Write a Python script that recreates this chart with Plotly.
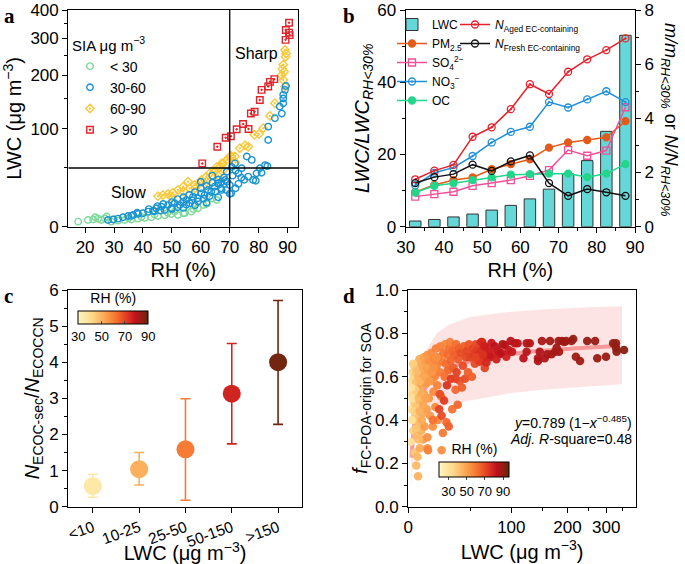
import math
import plotly.graph_objects as go
from plotly.colors import sample_colorscale

W, H = 685, 564
FONT = "Liberation Sans, Arial, sans-serif"
OFF = 80.0  # offset of the offset-log LWC scale (axis shows LWC, plots LWC+OFF on a log axis)

# ---------------- panel a : LWC vs RH by SIA class ----------------
a_lt30_rh = [17.6, 21, 22.8, 24.5, 25.6, 26.8, 29.1, 31.4, 33.7, 36, 38.3, 40.6, 42.9, 45.2, 47.5,
             49.8, 52.1, 54.4, 56.7, 59, 60.9, 65.5, 54, 23.5, 27.5, 30, 35, 39.5, 44, 48.5, 51,
             57.5, 62, 64]
a_lt30_lwc = [3.4, 4.6, 4.9, 5.5, 4.6, 5.8, 3.4, 4.1, 4.6, 4.9, 5.5, 6.0, 6.5, 7.4, 7.9,
              8.9, 8.1, 9.4, 10.6, 13.2, 15.7, 19.8, 9.4, 6.5, 7.0, 5.0, 5.8, 6.8, 8.5, 9.8, 10.8,
              12.5, 16.5, 21]
a_30_60_rh = [27.9, 29.7, 31.4, 33.1, 34.9, 36.6, 38.3, 40, 41.8, 43.5, 44.6, 46.4, 47.5, 48.7, 49.8,
              51, 52.7, 53.9, 55, 56.2, 57.3, 59, 60.2, 61.3, 62.5, 63.6, 64.8, 65.9, 67.1, 68.8,
              70, 70.5, 66, 67.2, 68.4, 70.7, 71.8, 73, 74.1, 75.9, 77.6, 76.4, 78.1, 79.3, 80.4,
              82.2, 83.3, 83.3, 85.6, 88, 88.5, 88.5, 89.1, 89.4, 88.5, 87.3,
              42, 45, 47, 50, 52, 54, 56, 58, 60, 62, 64, 66, 68, 52, 55, 57, 59, 61, 63, 65, 67,
              69, 71, 72, 73, 75, 46, 50, 54, 58, 62, 66, 70, 36, 38, 44, 60, 64, 69, 72, 74, 79,
              81, 83]
a_30_60_lwc = [4.6, 4.9, 5.5, 6.5, 7.4, 8.1, 8.9, 9.4, 10.6, 11.3, 13.2, 14.4, 11.8, 15.7, 13.2,
               17.1, 15.7, 18.4, 19.8, 17.1, 22.5, 21.2, 25.4, 24, 28.3, 26.8, 31.4, 34.5, 36, 28.3,
               33, 25.4, 34.5, 28.3, 37.7, 51, 55, 44.4, 49.7, 63, 59, 41, 37.7, 44.4, 49.7,
               53, 83.8, 103, 116, 124, 142, 151, 168, 176, 158, 136,
               12.5, 14.8, 16.5, 18, 20.5, 22, 24, 26.5, 30, 32, 35, 38, 40, 14, 16, 19.5, 18.5, 21,
               23, 27, 30, 36, 42, 30, 34, 38, 11.5, 12.5, 13.5, 15.5, 17.5, 22, 25, 7.5, 9.8, 11,
               36, 42, 46, 47, 40, 37, 45, 52]
a_60_90_rh = [89.1, 89.3, 88.5, 88.8, 88.5, 89.1, 85.6, 83.9, 81.6, 80.1, 78.5, 76.4, 75.3, 73.5,
              71.8, 70.1, 68.9, 67.2, 65.5, 45.2, 46.9, 48.7, 50.4, 52.1, 53.9, 55.6, 56.2, 57.9,
              59.6, 60.2, 61.9, 63.1, 64.8, 66.5, 67.7, 69.2, 70.5, 50, 54, 58, 62, 66, 68, 72,
              88.2, 89.5, 87.9]
a_60_90_lwc = [265, 246, 225, 208, 189, 175, 142, 120, 100.5, 92, 91, 75, 77, 73,
               63, 63, 59, 55, 51, 23, 24, 24.8, 26, 28.3, 31.4, 36, 29.9, 33,
               34.5, 37.7, 41, 44.4, 46, 51, 55, 59, 63.6, 22, 27, 30, 36, 42, 48, 56,
               215, 255, 200]
a_gt90_rh = [60.5, 65.7, 68.6, 70.4, 72.4, 74.6, 76.5, 77.3, 78.6, 80.4, 81, 83.3, 83.9, 85.4,
             89.3, 89.4, 90.5, 90.5, 90.7]
a_gt90_lwc = [55, 75, 87, 89, 99, 107, 99.5, 124, 127, 148, 168, 175, 185, 191,
              295, 327, 318, 352, 310]
RH_SPLIT = 70
LWC_SPLIT = 50
a_lwc_ticks = [0, 100, 200, 300, 400]
a_lwc_minor = [50, 150, 250, 350]

# ---------------- panel b : ratios vs RH bins ----------------
b_rh = [32.5, 37.5, 42.5, 47.5, 52.5, 57.5, 62.5, 67.5, 72.5, 77.5, 82.5, 87.5]
b_lwc_ratio = [1.57, 2.0, 2.7, 3.5, 4.6, 5.9, 7.7, 10.4, 14.6, 18.3, 26.4, 53.0]
b_pm25 = [1.28, 1.54, 1.72, 1.82, 2.12, 2.31, 2.49, 2.92, 3.11, 3.20, 3.30, 3.90]
b_so4 = [1.11, 1.20, 1.29, 1.51, 1.61, 1.72, 1.88, 2.09, 2.83, 2.62, 2.81, 4.41]
b_no3 = [1.53, 1.99, 2.18, 2.61, 3.11, 3.50, 3.69, 4.60, 4.40, 4.70, 5.00, 4.60]
b_oc = [1.26, 1.51, 1.60, 1.72, 1.82, 1.92, 1.94, 1.96, 1.96, 1.83, 1.96, 2.31]
b_aged = [1.75, 2.07, 2.28, 3.32, 3.67, 4.34, 5.26, 4.90, 5.72, 6.18, 6.52, 6.95]
b_fresh = [1.61, 1.83, 1.94, 2.29, 2.06, 2.41, 2.63, 1.61, 1.14, 1.39, 1.27, 1.14]

# ---------------- panel c : N ratio by LWC class ----------------
c_cats = ["<10", "10-25", "25-50", "50-150", ">150"]
c_mean = [0.57, 1.04, 1.59, 3.13, 4.00]
c_upper = [0.90, 1.50, 2.99, 4.52, 5.71]
c_lower = [0.26, 0.60, 0.18, 1.74, 2.28]
c_rh = [36, 51, 61, 76, 88]

# ---------------- panel d : f vs LWC ----------------
d_lwc = [1.5, 2.0, 2.2, 2.5, 2.8, 3.0, 3.2, 3.4, 3.6, 3.8, 4.0, 4.2, 4.5, 4.8, 5.0, 5.2, 5.4, 5.6, 5.8,
         6.0, 6.2, 6.4, 6.6, 6.8, 7.0, 7.3, 7.6, 7.8, 8.0, 8.3, 8.6, 8.9, 9.2, 9.5, 9.9, 10.2, 10.5,
         10.8, 11.0, 11.5, 12.0, 12.4, 12.8, 13.0, 13.0, 13.5, 14.0, 14.5, 15.0, 15.5, 16.0, 16.5,
         17.0, 17.5, 18.0, 18.5, 19.0, 19.5, 20.0, 20.5, 21, 21.5, 22, 22.5, 23, 23.5, 24, 24,
         24.5, 25, 25.5, 26, 26.5, 27, 27.5, 28, 28.5, 29, 29.5, 30, 30.5, 31, 31.5, 32, 33, 33.5,
         34, 35, 36, 36.5, 37, 38, 38.5, 39, 40, 41, 42, 43, 44, 45, 46, 47, 48, 49, 50, 52, 53,
         54, 55, 56, 57, 58, 60, 61, 62, 63, 64, 65, 66, 68, 70, 72,
         2.6, 3.1, 4.4, 5.1, 6.1, 6.9, 7.9, 8.8, 9.7, 11.2, 12.5, 14.2, 15.8, 17.8, 19.8, 3.9,
         4.9, 5.9, 6.7, 7.4, 2.3, 1.8, 9.0, 10.0, 11.8, 22.5, 36, 13.4, 17,
         76, 84, 91, 93, 96, 99, 101, 105, 109, 118, 123, 123, 128, 142, 142, 145, 149, 154, 159,
         164, 167, 174, 177, 181, 182, 188, 193, 197, 209, 213, 219, 229, 247, 268, 274, 299, 321,
         330, 332, 330, 357,
         62, 66, 70, 74, 78, 82, 86, 72, 88, 60, 56, 64, 68, 80]
d_f = [0.30, 0.45, 0.52, 0.58, 0.62, 0.40, 0.35, 0.55, 0.60, 0.48, 0.65, 0.25, 0.42, 0.57, 0.62,
       0.19, 0.50, 0.33, 0.66, 0.23, 0.45, 0.14, 0.60, 0.54, 0.38, 0.68, 0.27, 0.63, 0.48, 0.56,
       0.35, 0.66, 0.59, 0.43, 0.31, 0.69, 0.52, 0.62, 0.37, 0.66, 0.57, 0.45, 0.70, 0.27, 0.32,
       0.61, 0.50, 0.67, 0.42, 0.58, 0.71, 0.64, 0.37, 0.53, 0.68, 0.60, 0.46, 0.73, 0.65, 0.56,
       0.40, 0.69, 0.45, 0.62, 0.74, 0.51, 0.26, 0.42, 0.67, 0.34, 0.71, 0.49, 0.60, 0.75, 0.66,
       0.39, 0.56, 0.70, 0.63, 0.37, 0.73, 0.76, 0.67, 0.59, 0.45, 0.72, 0.64, 0.70, 0.54, 0.75,
       0.62, 0.47, 0.68, 0.73, 0.58, 0.71, 0.55, 0.65, 0.74, 0.59, 0.69, 0.72, 0.62, 0.75, 0.69,
       0.60, 0.73, 0.70, 0.66, 0.75, 0.72, 0.70, 0.75, 0.67, 0.72, 0.76, 0.70, 0.74, 0.64, 0.69,
       0.72, 0.70,
       0.50, 0.66, 0.54, 0.46, 0.63, 0.50, 0.58, 0.52, 0.64, 0.60, 0.64, 0.58, 0.62, 0.64, 0.69,
       0.44, 0.36, 0.40, 0.31, 0.44, 0.40, 0.55, 0.40, 0.47, 0.50, 0.52, 0.59, 0.26, 0.40,
       0.703, 0.703, 0.746, 0.692, 0.723, 0.765, 0.715, 0.754, 0.754, 0.685, 0.715, 0.754, 0.754,
       0.685, 0.672, 0.715, 0.765, 0.685, 0.703, 0.765, 0.703, 0.715, 0.734, 0.765, 0.715, 0.765,
       0.76, 0.765, 0.765, 0.774, 0.692, 0.672, 0.765, 0.765, 0.685, 0.692, 0.754, 0.754, 0.715,
       0.734, 0.723,
       0.76, 0.74, 0.72, 0.755, 0.74, 0.72, 0.71, 0.69, 0.75, 0.67, 0.69, 0.70, 0.665, 0.68]
d_rh = [30, 33, 35, 34, 36, 35, 37, 38, 36, 39, 40, 40, 41, 42, 40, 44, 42, 43, 44, 45, 43, 46,
        45, 46, 45, 47, 48, 46, 47, 49, 47, 48, 50, 49, 50, 50, 51, 50, 52, 52, 53, 52, 53, 55,
        55, 54, 54, 55, 53, 55, 56, 55, 55, 56, 57, 57, 56, 58, 58, 58, 57, 59, 72, 59, 58, 60,
        55, 70, 60, 60, 61, 74, 62, 57, 62, 64, 76, 63, 64, 66, 62, 58, 65, 74, 62, 64, 66, 66,
        64, 63, 72, 65, 67, 66, 68, 70, 66, 70, 66, 70, 71, 72, 66, 68, 72, 66, 72, 74, 70, 70,
        74, 76, 72, 74, 76, 74, 76, 78, 72, 78, 78, 80,
        32, 38, 39, 41, 43, 44, 45, 47, 48, 49, 51, 52, 53, 54, 55, 37, 41, 42, 44, 46, 31, 30,
        48, 49, 50, 70, 72, 58, 62,
        80, 82, 82, 80, 82, 84, 82, 84, 84, 84, 85, 85, 86, 86, 86, 86, 87, 86, 87, 88, 87, 88,
        88, 88, 88, 88, 89, 89, 89, 90, 89, 89, 90, 90, 90, 90, 91, 91, 91, 91, 92,
        78, 80, 80, 82, 84, 82, 84, 82, 86, 74, 72, 76, 78, 80]
d_band_lwc = [2, 3, 5, 8, 12, 20, 30, 50, 100, 150, 250, 350]
d_band_up = [0.36, 0.44, 0.54, 0.64, 0.72, 0.80, 0.84, 0.875, 0.90, 0.91, 0.92, 0.925]
d_band_lo = [0.08, 0.20, 0.33, 0.40, 0.43, 0.455, 0.47, 0.49, 0.525, 0.54, 0.555, 0.565]
d_fit_lwc = [2, 3, 5, 8, 12, 20, 30, 50, 80, 120, 180, 250, 330]
d_fit_f = [0.226, 0.326, 0.428, 0.501, 0.553, 0.604, 0.638, 0.671, 0.695, 0.712, 0.725, 0.735, 0.741]
d_lwc_ticks = [0, 100, 200, 300]
d_lwc_minor = [50, 150, 250, 350]

RH_SCALE = [[0.0, "#fff6c4"], [0.2, "#fdd98a"], [0.4, "#fba14d"], [0.55, "#f5702e"],
            [0.7, "#e03a22"], [0.82, "#c1121c"], [0.92, "#931d12"], [1.0, "#5b2a0c"]]


def xd(l, r):
    return [l / W, r / W]


def yd(t, b):
    return [1 - b / H, 1 - t / H]


def off(v):
    return [x + OFF for x in v]


def axis(**kw):
    base = dict(showline=True, linecolor="black", linewidth=1.3, ticks="outside", ticklen=5,
                tickwidth=1.2, tickcolor="black", showgrid=False, zeroline=False, mirror=True,
                tickfont=dict(size=17, color="black", family=FONT),
                title_font=dict(size=20, color="black", family=FONT))
    base.update(kw)
    return base


fig = go.Figure()

# ---- panel a traces
a_sets = [
    ("&lt; 30", a_lt30_rh, a_lt30_lwc, "circle-open", "#7dd89a", 1),
    ("60-90", a_60_90_rh, a_60_90_lwc, "diamond-open-dot", "#fbc83a", 3),
    ("30-60", a_30_60_rh, a_30_60_lwc, "circle-open", "#1a93d2", 2),
    ("&gt; 90", a_gt90_rh, a_gt90_lwc, "square-open-dot", "#e0242b", 4),
]
for name, rh, lwc, sym, col, rank in a_sets:
    fig.add_trace(go.Scatter(x=rh, y=off(lwc), mode="markers", name=name, legendrank=rank,
                             xaxis="x", yaxis="y", legend="legend",
                             marker=dict(symbol=sym, size=6.5, color=col, line=dict(width=1.4, color=col))))
fig.add_trace(go.Scatter(x=[RH_SPLIT, RH_SPLIT], y=[OFF, 400 + OFF], mode="lines", showlegend=False,
                         line=dict(color="black", width=1.3), xaxis="x", yaxis="y", hoverinfo="skip"))
fig.add_trace(go.Scatter(x=[14.2, 93.7], y=[LWC_SPLIT + OFF] * 2, mode="lines", showlegend=False,
                         line=dict(color="black", width=1.3), xaxis="x", yaxis="y", hoverinfo="skip"))

# ---- panel b traces
fig.add_trace(go.Bar(x=b_rh, y=b_lwc_ratio, name="LWC", width=3.0, xaxis="x2", yaxis="y2",
                     legend="legend2", marker=dict(color="#66d7d8", line=dict(color="#333333", width=1))))
b_lines = [
    ("PM<sub>2.5</sub>", b_pm25, "circle", "#e35a1a", "legend2"),
    ("SO<sub>4</sub><sup>2−</sup>", b_so4, "square-open", "#f0509a", "legend2"),
    ("NO<sub>3</sub><sup>−</sup>", b_no3, "circle-open-dot", "#1f8fd8", "legend2"),
    ("OC", b_oc, "circle", "#22d68c", "legend2"),
    ("<i>N</i><sub>Aged EC-containing</sub>", b_aged, "circle-open-dot", "#e8202a", "legend3"),
    ("<i>N</i><sub>Fresh EC-containing</sub>", b_fresh, "circle-open", "#111111", "legend3"),
]
for name, vals, sym, col, lg in b_lines:
    fig.add_trace(go.Scatter(x=b_rh, y=vals, name=name, mode="lines+markers", xaxis="x2", yaxis="y3",
                             legend=lg, line=dict(color=col, width=1.5),
                             marker=dict(symbol=sym, size=7, color=col, line=dict(color=col, width=1.3))))

# ---- panel c traces
c_cols = sample_colorscale(RH_SCALE, [(v - 30) / 60 for v in c_rh])
for i, cat in enumerate(c_cats):
    fig.add_trace(go.Scatter(
        x=[cat], y=[c_mean[i]], mode="markers", showlegend=False, xaxis="x3", yaxis="y4",
        marker=dict(size=18, color=[c_rh[i]], coloraxis="coloraxis"),
        error_y=dict(type="data", symmetric=False, array=[c_upper[i] - c_mean[i]],
                     arrayminus=[c_mean[i] - c_lower[i]], color=c_cols[i], thickness=1.6, width=5)))

# ---- panel d traces
fig.add_trace(go.Scatter(x=off(d_band_lwc), y=d_band_lo, mode="lines", line=dict(width=0),
                         showlegend=False, xaxis="x4", yaxis="y5", hoverinfo="skip"))
fig.add_trace(go.Scatter(x=off(d_band_lwc), y=d_band_up, mode="lines", line=dict(width=0),
                         fill="tonexty", fillcolor="rgba(252,205,205,0.55)",
                         showlegend=False, xaxis="x4", yaxis="y5", hoverinfo="skip"))
fig.add_trace(go.Scatter(x=off(d_fit_lwc), y=d_fit_f, mode="lines", line=dict(color="rgba(240,90,90,0.55)", width=4, shape="spline"),
                         showlegend=False, xaxis="x4", yaxis="y5", hoverinfo="skip"))
fig.add_trace(go.Scatter(x=off(d_lwc), y=d_f, mode="markers", showlegend=False, xaxis="x4", yaxis="y5",
                         marker=dict(size=8.5, color=d_rh, coloraxis="coloraxis2", opacity=0.95)))

# ---- layout
lwc_range = [math.log10(OFF), math.log10(400 + OFF)]
leg_common = dict(xanchor="left", yanchor="top", bgcolor="rgba(0,0,0,0)", tracegroupgap=0,
                  traceorder="normal")
fig.update_layout(
    width=W, height=H, margin=dict(l=0, r=0, t=0, b=0, autoexpand=False),
    paper_bgcolor="white", plot_bgcolor="white",
    font=dict(family=FONT, color="black"),
    barmode="overlay",
    xaxis=axis(domain=xd(68.3, 298.3), anchor="y", range=[14.2, 93.7], dtick=10, tick0=0,
               title=dict(text="RH (%)", standoff=6)),
    yaxis=axis(domain=yd(10, 226.7), anchor="x", type="log", range=lwc_range,
               tickvals=off(a_lwc_ticks), ticktext=[str(v) for v in a_lwc_ticks],
               minor=dict(tickvals=off(a_lwc_minor), ticks="outside", ticklen=3, tickcolor="black"),
               title=dict(text="LWC (μg m<sup>−3</sup>)", standoff=4)),
    xaxis2=axis(domain=xd(405.7, 635), anchor="y2", range=[30, 90], dtick=10, tick0=0,
                minor=dict(dtick=5, ticks="outside", ticklen=3, tickcolor="black"),
                title=dict(text="RH (%)", standoff=6)),
    yaxis2=axis(domain=yd(10, 226.7), anchor="x2", range=[0, 60], dtick=20, mirror=False,
                minor=dict(dtick=10, ticks="outside", ticklen=3, tickcolor="black"),
                title=dict(text="<i>LWC/LWC</i><sub><i>RH&lt;30%</i></sub>", standoff=2)),
    yaxis3=axis(anchor="x2", overlaying="y2", side="right", range=[0, 8], dtick=2, mirror=False,
                minor=dict(dtick=1, ticks="outside", ticklen=3, tickcolor="black")),
    xaxis3=axis(domain=xd(68.3, 301.7), anchor="y4", type="category", range=[-0.53, 4.51],
                categoryorder="array", categoryarray=c_cats, tickangle=-20,
                tickfont=dict(size=15.5, color="black", family=FONT),
                title=dict(text="LWC (μg m<sup>−3</sup>)", standoff=0)),
    yaxis4=axis(domain=yd(290, 506.7), anchor="x3", range=[0, 6], dtick=1,
                minor=dict(dtick=0.5, ticks="outside", ticklen=3, tickcolor="black"),
                title=dict(text="<i>N</i><sub>ECOC-sec</sub>/<i>N</i><sub>ECOCCN</sub>", standoff=4)),
    xaxis4=axis(domain=xd(408.3, 636), anchor="y5", type="log", range=lwc_range,
                tickvals=off(d_lwc_ticks), ticktext=[str(v) for v in d_lwc_ticks],
                minor=dict(tickvals=off(d_lwc_minor), ticks="outside", ticklen=3, tickcolor="black"),
                title=dict(text="LWC (μg m<sup>−3</sup>)", standoff=0)),
    yaxis5=axis(domain=yd(290, 506.7), anchor="x4", range=[0, 1], dtick=0.2, tickformat=".1f",
                minor=dict(dtick=0.1, ticks="outside", ticklen=3, tickcolor="black"),
                title=dict(text="<i>f</i><sub>FC-POA-origin for SOA</sub>", standoff=2)),
    coloraxis=dict(cmin=30, cmax=90, colorscale=RH_SCALE,
                   colorbar=dict(orientation="h", x=113.3 / W, xanchor="center", y=1 - 295 / H,
                                 yanchor="top", len=70, lenmode="pixels", thickness=13,
                                 thicknessmode="pixels", xpad=0, ypad=0, outlinewidth=1,
                                 outlinecolor="black", tickvals=[30, 50, 70, 90], ticks="inside",
                                 ticklen=3, tickfont=dict(size=13),
                                 title=dict(text="RH (%)", side="top", font=dict(size=14)))),
    coloraxis2=dict(cmin=20, cmax=97, colorscale=RH_SCALE,
                    colorbar=dict(orientation="h", x=474.4 / W, xanchor="center", y=1 - 446 / H,
                                  yanchor="top", len=70, lenmode="pixels", thickness=15,
                                  thicknessmode="pixels", xpad=0, ypad=0, outlinewidth=1,
                                  outlinecolor="black", tickvals=[30, 50, 70, 90], ticks="outside",
                                  ticklen=3, tickfont=dict(size=13),
                                  title=dict(text="RH (%)", side="top", font=dict(size=14)))),
    legend=dict(x=70 / W, y=1 - 31 / H, font=dict(size=14),
                title=dict(text="SIA μg m<sup>−3</sup>", font=dict(size=15)), **leg_common),
    legend2=dict(x=392 / W, y=1 - 10 / H, font=dict(size=12), **leg_common),
    legend3=dict(x=455 / W, y=1 - 10 / H, font=dict(size=12), **leg_common),
)

serif = dict(family="Liberation Serif, Times New Roman, serif", size=21)
ann = [
    dict(text="<b>a</b>", x=2 / W, y=1 - 2 / H, xref="paper", yref="paper", xanchor="left", yanchor="top",
         showarrow=False, font=serif),
    dict(text="<b>b</b>", x=341 / W, y=1 - 2 / H, xref="paper", yref="paper", xanchor="left", yanchor="top",
         showarrow=False, font=serif),
    dict(text="<b>c</b>", x=2 / W, y=1 - 282 / H, xref="paper", yref="paper", xanchor="left", yanchor="top",
         showarrow=False, font=serif),
    dict(text="<b>d</b>", x=341 / W, y=1 - 282 / H, xref="paper", yref="paper", xanchor="left", yanchor="top",
         showarrow=False, font=serif),
    dict(text="Slow", x=35, y=math.log10(26 + OFF), xref="x", yref="y", showarrow=False, font=dict(size=16)),
    dict(text="Sharp", x=79.3, y=math.log10(255 + OFF), xref="x", yref="y", showarrow=False, font=dict(size=16)),
    dict(text="<i>m/m</i><sub><i>RH&lt;30%</i></sub> or <i>N/N</i><sub><i>RH&lt;30%</i></sub>",
         x=669 / W, y=1 - 120 / H, xref="paper", yref="paper", xanchor="center", yanchor="middle",
         textangle=90, showarrow=False, font=dict(size=18)),
    dict(text="<i>y</i>=0.789 (1−<i>x</i><sup>−0.485</sup>)", x=634 / W, y=1 - 422 / H, xref="paper",
         yref="paper", xanchor="right", yanchor="middle", showarrow=False, font=dict(size=14)),
    dict(text="<i>Adj. R</i>-square=0.48", x=634 / W, y=1 - 439 / H, xref="paper",
         yref="paper", xanchor="right", yanchor="middle", showarrow=False, font=dict(size=14)),
]
fig.update_layout(annotations=ann)

# the page's default 8px body margin would shift the whole figure; remove it
fig.write_html("out.html", config={"displayModeBar": False},
               post_script="document.body.style.margin='0px';document.body.style.overflow='hidden';")
